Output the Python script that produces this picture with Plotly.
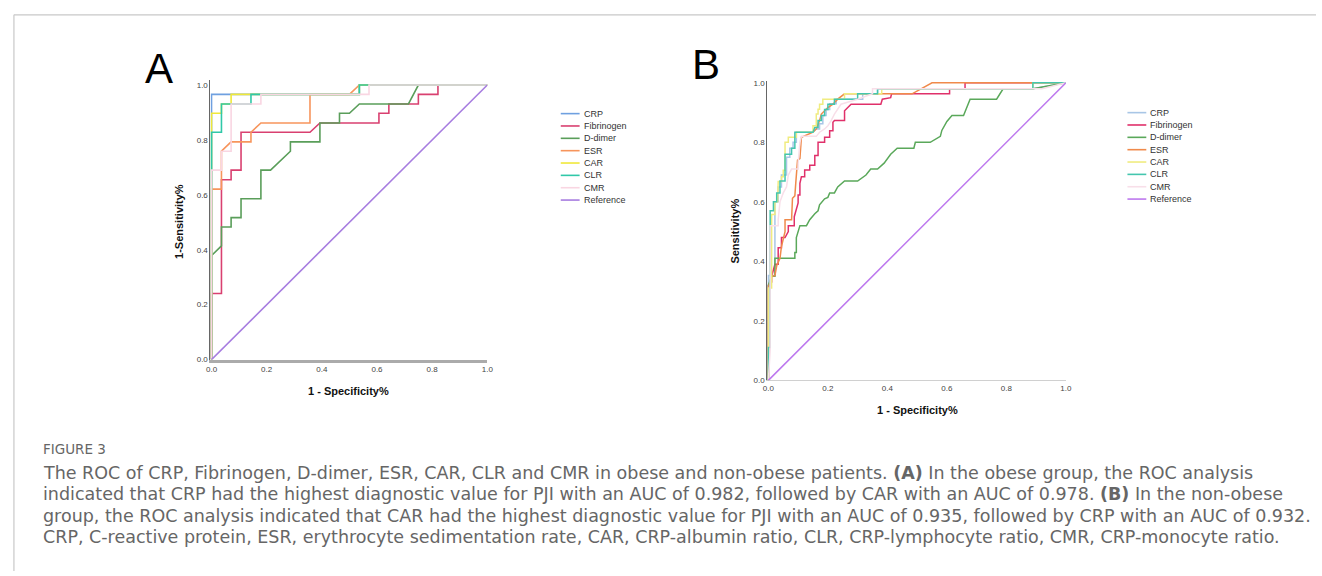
import plotly.graph_objects as go

W, H = 1322, 576

SERIES = ["CRP", "Fibrinogen", "D-dimer", "ESR", "CAR", "CLR", "CMR", "Reference"]
TICKS = [0.0, 0.2, 0.4, 0.6, 0.8, 1.0]
TICK_LABELS = ["0.0", "0.2", "0.4", "0.6", "0.8", "1.0"]

# ---------------- Panel A (obese) : 1-specificity (x) / sensitivity (y) ----------------
A_CRP_x = [0, 0, 0.536, 0.536, 1]
A_CRP_y = [0, 0.966, 0.966, 1, 1]
A_FIB_x = [0, 0, 0.036, 0.036, 0.071, 0.071, 0.107, 0.107, 0.357, 0.393, 0.607, 0.607, 0.643, 0.643, 0.75, 0.75, 0.821, 0.821, 1]
A_FIB_y = [0, 0.241, 0.241, 0.655, 0.655, 0.69, 0.69, 0.828, 0.828, 0.862, 0.862, 0.897, 0.897, 0.931, 0.931, 0.966, 0.966, 1, 1]
A_DD_x = [0, 0, 0.036, 0.036, 0.071, 0.071, 0.107, 0.107, 0.179, 0.179, 0.214, 0.286, 0.286, 0.393, 0.393, 0.464, 0.464, 0.5, 0.536, 0.714, 0.75, 1]
A_DD_y = [0, 0.379, 0.414, 0.483, 0.483, 0.517, 0.517, 0.586, 0.586, 0.69, 0.69, 0.759, 0.793, 0.793, 0.862, 0.862, 0.897, 0.897, 0.931, 0.931, 1, 1]
A_ESR_x = [0, 0, 0.036, 0.036, 0.071, 0.143, 0.143, 0.179, 0.357, 0.357, 0.5, 0.536, 1]
A_ESR_y = [0, 0.621, 0.621, 0.759, 0.793, 0.793, 0.828, 0.862, 0.862, 0.966, 0.966, 1, 1]
A_CAR_x = [0, 0, 0.036, 0.036, 0.071, 0.071, 0.536, 0.536, 1]
A_CAR_y = [0, 0.897, 0.897, 0.931, 0.931, 0.966, 0.966, 1, 1]
A_CLR_x = [0, 0, 0.036, 0.036, 0.143, 0.143, 0.536, 0.536, 1]
A_CLR_y = [0, 0.828, 0.828, 0.931, 0.931, 0.966, 0.966, 1, 1]
A_CMR_x = [0, 0, 0.036, 0.036, 0.071, 0.071, 0.179, 0.179, 0.571, 0.571, 1]
A_CMR_y = [0, 0.69, 0.69, 0.759, 0.759, 0.931, 0.931, 0.966, 0.966, 1, 1]
A_REF_x = [0, 1]
A_REF_y = [0, 1]

# ---------------- Panel B (non-obese) ----------------
B_CRP_x = [0, 0, 0.022, 0.022, 0.033, 0.033, 0.044, 0.044, 0.061, 0.061, 0.072, 0.072, 0.083, 0.083, 0.094, 0.094,
           0.15, 0.161, 0.172, 0.172, 0.183, 0.183, 0.194, 0.194, 0.206, 0.206, 0.228, 0.228, 0.317, 0.317, 0.367, 0.367, 0.889, 1]
B_CRP_y = [0, 0.352, 0.352, 0.6, 0.6, 0.65, 0.65, 0.69, 0.69, 0.75, 0.75, 0.78, 0.78, 0.8, 0.8, 0.834,
           0.834, 0.845, 0.845, 0.862, 0.862, 0.89, 0.89, 0.91, 0.91, 0.93, 0.93, 0.945, 0.945, 0.963, 0.963, 0.98, 0.98, 1]
B_FIB_x = [0, 0, 0.011, 0.011, 0.022, 0.033, 0.033, 0.044, 0.044, 0.056, 0.067, 0.067, 0.087, 0.087, 0.1, 0.1,
           0.106, 0.106, 0.111, 0.122, 0.122, 0.139, 0.139, 0.156, 0.156, 0.167, 0.167, 0.189, 0.189, 0.206, 0.206,
           0.217, 0.217, 0.222, 0.256, 0.256, 0.278, 0.378, 0.383, 0.411, 0.414, 0.609, 0.609, 0.661, 0.661, 1]
B_FIB_y = [0, 0.319, 0.33, 0.35, 0.39, 0.39, 0.446, 0.446, 0.48, 0.48, 0.5, 0.52, 0.52, 0.55, 0.596, 0.623,
           0.623, 0.662, 0.684, 0.684, 0.707, 0.707, 0.723, 0.723, 0.756, 0.756, 0.8, 0.8, 0.817, 0.817, 0.839,
           0.839, 0.867, 0.873, 0.873, 0.906, 0.928, 0.928, 0.945, 0.95, 0.963, 0.963, 0.98, 0.98, 1, 1]
B_DD_x = [0, 0, 0.011, 0.022, 0.022, 0.089, 0.089, 0.094, 0.094, 0.106, 0.128, 0.139, 0.156, 0.167, 0.172, 0.189,
          0.2, 0.206, 0.222, 0.233, 0.256, 0.3, 0.328, 0.344, 0.367, 0.389, 0.411, 0.433, 0.489, 0.494, 0.544,
          0.578, 0.583, 0.6, 0.617, 0.656, 0.678, 0.767, 0.789, 0.889, 1]
B_DD_y = [0, 0.32, 0.35, 0.35, 0.41, 0.41, 0.43, 0.43, 0.48, 0.52, 0.52, 0.54, 0.56, 0.57, 0.59, 0.61,
          0.615, 0.63, 0.63, 0.65, 0.67, 0.67, 0.69, 0.71, 0.71, 0.73, 0.76, 0.78, 0.78, 0.8, 0.8,
          0.82, 0.84, 0.87, 0.89, 0.89, 0.945, 0.945, 0.98, 0.98, 1]
B_ESR_x = [0, 0, 0.011, 0.022, 0.028, 0.039, 0.044, 0.05, 0.056, 0.056, 0.078, 0.081, 0.089, 0.092, 0.098, 0.106,
           0.108, 0.111, 0.15, 0.161, 0.172, 0.178, 0.2, 0.217, 0.233, 0.256, 0.483, 0.55, 1]
B_ESR_y = [0, 0.31, 0.35, 0.352, 0.385, 0.41, 0.45, 0.48, 0.5, 0.54, 0.54, 0.612, 0.62, 0.662, 0.74, 0.745,
           0.8, 0.817, 0.834, 0.845, 0.873, 0.895, 0.917, 0.928, 0.945, 0.963, 0.963, 1, 1]
B_CAR_x = [0, 0, 0.011, 0.011, 0.022, 0.022, 0.031, 0.031, 0.033, 0.033, 0.044, 0.044, 0.05, 0.05, 0.056, 0.056,
           0.067, 0.067, 0.094, 0.094, 0.15, 0.15, 0.161, 0.161, 0.167, 0.167, 0.172, 0.172, 0.183, 0.183,
           0.256, 0.256, 0.381, 0.381, 0.889, 0.889, 1]
B_CAR_y = [0, 0.31, 0.31, 0.557, 0.557, 0.6, 0.6, 0.64, 0.64, 0.668, 0.668, 0.684, 0.684, 0.706, 0.706, 0.8,
           0.8, 0.817, 0.817, 0.834, 0.834, 0.856, 0.856, 0.895, 0.895, 0.911, 0.911, 0.928, 0.928, 0.945,
           0.945, 0.963, 0.963, 0.98, 0.98, 1, 1]
B_CLR_x = [0, 0, 0.006, 0.006, 0.017, 0.017, 0.028, 0.028, 0.039, 0.039, 0.056, 0.056, 0.078, 0.078, 0.089, 0.089,
           0.15, 0.156, 0.167, 0.167, 0.178, 0.178, 0.189, 0.189, 0.2, 0.2, 0.222, 0.222, 0.3, 0.3, 0.367, 0.367,
           0.889, 0.889, 1]
B_CLR_y = [0, 0.11, 0.11, 0.57, 0.57, 0.6, 0.6, 0.63, 0.63, 0.67, 0.67, 0.76, 0.76, 0.78, 0.78, 0.834,
           0.834, 0.85, 0.85, 0.873, 0.873, 0.89, 0.89, 0.91, 0.91, 0.928, 0.928, 0.945, 0.945, 0.963, 0.963, 0.98,
           0.98, 1, 1]
B_CMR_x = [0, 0.006, 0.006, 0.033, 0.033, 0.039, 0.05, 0.061, 0.067, 0.078, 0.1, 0.1, 0.106, 0.111, 0.161, 0.172,
           0.189, 0.2, 0.211, 0.222, 0.244, 0.3, 0.35, 0.35, 0.92, 1]
B_CMR_y = [0, 0.1, 0.52, 0.52, 0.54, 0.6, 0.63, 0.65, 0.69, 0.71, 0.71, 0.73, 0.8, 0.82, 0.82, 0.834,
           0.845, 0.856, 0.873, 0.895, 0.928, 0.945, 0.963, 0.98, 0.98, 1]
B_REF_x = [0, 1]
B_REF_y = [0, 1]

COLORS_A = ["#6fa0e0", "#d94070", "#5a9e5a", "#f7955c", "#f0e83a", "#30c8a8", "#f9d6e2", "#a77de0"]
COLORS_B = ["#a8c6e6", "#e0306a", "#5aa85a", "#f08a4b", "#f0ec80", "#44c6ae", "#f8dfe9", "#bd78ee"]

CAPTION_LABEL = "FIGURE 3"
CAPTION_LINES = [
    "The ROC of CRP, Fibrinogen, D-dimer, ESR, CAR, CLR and CMR in obese and non-obese patients. <b>(A)</b> In the obese group, the ROC analysis",
    "indicated that CRP had the highest diagnostic value for PJI with an AUC of 0.982, followed by CAR with an AUC of 0.978. <b>(B)</b> In the non-obese",
    "group, the ROC analysis indicated that CAR had the highest diagnostic value for PJI with an AUC of 0.935, followed by CRP with an AUC of 0.932.",
    "CRP, C-reactive protein, ESR, erythrocyte sedimentation rate, CAR, CRP-albumin ratio, CLR, CRP-lymphocyte ratio, CMR, CRP-monocyte ratio.",
]

panel_a = [(A_CRP_x, A_CRP_y), (A_FIB_x, A_FIB_y), (A_DD_x, A_DD_y), (A_ESR_x, A_ESR_y),
           (A_CAR_x, A_CAR_y), (A_CLR_x, A_CLR_y), (A_CMR_x, A_CMR_y), (A_REF_x, A_REF_y)]
panel_b = [(B_CRP_x, B_CRP_y), (B_FIB_x, B_FIB_y), (B_DD_x, B_DD_y), (B_ESR_x, B_ESR_y),
           (B_CAR_x, B_CAR_y), (B_CLR_x, B_CLR_y), (B_CMR_x, B_CMR_y), (B_REF_x, B_REF_y)]

fig = go.Figure()
for name, (xs, ys), c in zip(SERIES, panel_a, COLORS_A):
    fig.add_trace(go.Scatter(x=xs, y=ys, mode="lines", name=name, showlegend=False,
                             line=dict(color=c, width=1.6), xaxis="x", yaxis="y", hoverinfo="skip"))
for name, (xs, ys), c in zip(SERIES, panel_b, COLORS_B):
    fig.add_trace(go.Scatter(x=xs, y=ys, mode="lines", name=name, showlegend=False,
                             line=dict(color=c, width=1.5), xaxis="x2", yaxis="y2", hoverinfo="skip"))


def px(x):
    return x / W


def py(y):
    return 1 - y / H


tickfont = dict(family="Liberation Sans, Arial, sans-serif", size=8, color="#444")
common = dict(tickvals=TICKS, ticktext=TICK_LABELS, showgrid=False, zeroline=False, ticks="",
              tickfont=tickfont, layer="below traces", fixedrange=True)

fig.update_layout(
    width=W, height=H, margin=dict(l=0, r=0, t=0, b=0),
    paper_bgcolor="white", plot_bgcolor="white", showlegend=False,
    xaxis=dict(domain=[px(208), px(487)], range=[-0.004, 1.0], anchor="y",
               showline=True, linecolor="#ababab", linewidth=2.5, **common),
    yaxis=dict(domain=[py(362), py(78.5)], range=[0, 1.02], anchor="x",
               showline=True, linecolor="#666", linewidth=1, **common),
    xaxis2=dict(domain=[px(769), px(1070)], range=[-0.004, 1.0], anchor="y2",
                showline=True, linecolor="#d0d0d0", linewidth=1, **common),
    yaxis2=dict(domain=[py(383), py(80)], range=[0, 1.006], anchor="x2",
                showline=True, linecolor="#666", linewidth=1, **common),
)

shapes = []
annotations = []

# page frame
frame_col = "#c8c8c8"
shapes.append(dict(type="line", xref="paper", yref="paper", x0=px(10), x1=1, y0=py(13), y1=py(13),
                   line=dict(color=frame_col, width=1.2)))
shapes.append(dict(type="line", xref="paper", yref="paper", x0=px(10), x1=px(10), y0=py(13), y1=0,
                   line=dict(color=frame_col, width=1.2)))

# panel letters
annotations.append(dict(text="A", x=px(156), y=py(67), xref="paper", yref="paper", showarrow=False,
                        xanchor="center", yanchor="middle",
                        font=dict(family="Liberation Sans, Arial, sans-serif", size=42, color="#000")))
annotations.append(dict(text="B", x=px(707), y=py(63), xref="paper", yref="paper", showarrow=False,
                        xanchor="center", yanchor="middle",
                        font=dict(family="Liberation Sans, Arial, sans-serif", size=42, color="#000")))

# axis titles
tfont = dict(family="Liberation Sans, Arial, sans-serif", size=11, color="#111")
annotations.append(dict(text="<b>1 - Specificity%</b>", x=px(347), y=py(394), xref="paper", yref="paper",
                        showarrow=False, xanchor="center", yanchor="middle", font=tfont))
annotations.append(dict(text="<b>1-Sensitivity%</b>", x=px(177), y=py(222), xref="paper", yref="paper",
                        showarrow=False, xanchor="center", yanchor="middle", textangle=-90, font=tfont))
annotations.append(dict(text="<b>1 - Specificity%</b>", x=px(920), y=py(413), xref="paper", yref="paper",
                        showarrow=False, xanchor="center", yanchor="middle", font=tfont))
annotations.append(dict(text="<b>Sensitivity%</b>", x=px(737), y=py(232), xref="paper", yref="paper",
                        showarrow=False, xanchor="center", yanchor="middle", textangle=-90, font=tfont))

# manual legends
lfont = dict(family="Liberation Sans, Arial, sans-serif", size=9, color="#333")
for (lx0, lx1, tx, ty0, cols) in [(561, 580, 582, 113, COLORS_A), (1132, 1151, 1153, 112, COLORS_B)]:
    for i, (name, c) in enumerate(zip(SERIES, cols)):
        yy = ty0 + i * 12.5
        shapes.append(dict(type="line", xref="paper", yref="paper", x0=px(lx0), x1=px(lx1),
                           y0=py(yy), y1=py(yy), line=dict(color=c, width=1.6)))
        annotations.append(dict(text=name, x=px(tx), y=py(yy), xref="paper", yref="paper", showarrow=False,
                                xanchor="left", yanchor="middle", font=lfont))

# caption
annotations.append(dict(text=CAPTION_LABEL, x=px(37), y=py(453), xref="paper", yref="paper", showarrow=False,
                        xanchor="left", yanchor="middle",
                        font=dict(family="DejaVu Sans, sans-serif", size=13.5, color="#666")))
for i, line in enumerate(CAPTION_LINES):
    annotations.append(dict(text=line, x=px(37), y=py(477 + i * 21.5), xref="paper", yref="paper",
                            showarrow=False, xanchor="left", yanchor="middle",
                            font=dict(family="DejaVu Sans, sans-serif", size=17.5, color="#666")))

fig.update_layout(shapes=shapes, annotations=annotations)
fig.write_html(
    "out.html",
    config={"displayModeBar": False},
    post_script="document.documentElement.style.margin='0';document.body.style.margin='0';"
                "document.body.style.overflow='hidden';document.documentElement.style.overflow='hidden';",
)
